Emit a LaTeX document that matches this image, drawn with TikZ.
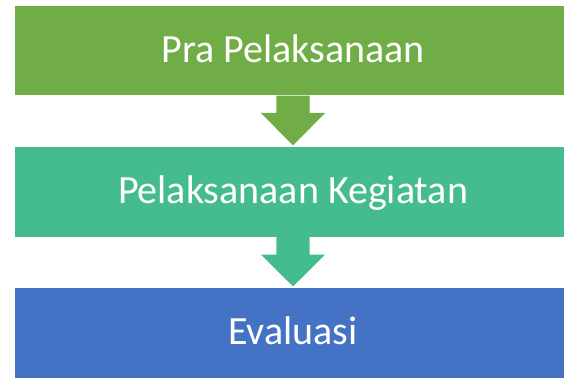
\documentclass[tikz,border=0pt]{standalone}
\usepackage{fontspec}
\setmainfont{Carlito}
\usetikzlibrary{calc}
\definecolor{cgreen}{HTML}{70AD47}
\definecolor{cteal}{HTML}{45BC8D}
\definecolor{cblue}{HTML}{4472C4}
\tikzset{
  stagebox/.style={rectangle, minimum width=556pt, minimum height=89.7pt, inner sep=0pt,
    text=white, text height=26pt, text depth=2pt, font=\fontsize{40}{48}\selectfont},
}
\begin{document}
\begin{tikzpicture}[x=1pt,y=-1pt]
\useasboundingbox (0,0) rectangle (564,377);
\clip (0,0) rectangle (564,377);
\node[stagebox, fill=cgreen] (b1) at (293,50.5) {Pra Pelaksanaan};
\node[stagebox, fill=cteal] (b2) at (293,191.85) {Pelaksanaan Kegiatan};
\node[stagebox, fill=cblue] (b3) at (293,332.8) {Evaluasi};
% arrow 1
\fill[cgreen] ($(b1.south)+(-16.7,0)$) -- ++(0,17.3) -- ++(-15.5,0)
  -- ($(b2.north)+(0,-1.3)$) -- ($(b1.south)+(32.2,17.3)$) -- ++(-15.5,0)
  -- ($(b1.south)+(16.7,0)$) -- cycle;
% arrow 2
\fill[cteal] ($(b2.south)+(-16.7,0)$) -- ++(0,17.6) -- ++(-15.5,0)
  -- ($(b3.north)+(0,-1.3)$) -- ($(b2.south)+(32.2,17.6)$) -- ++(-15.5,0)
  -- ($(b2.south)+(16.7,0)$) -- cycle;
\end{tikzpicture}
\end{document}
